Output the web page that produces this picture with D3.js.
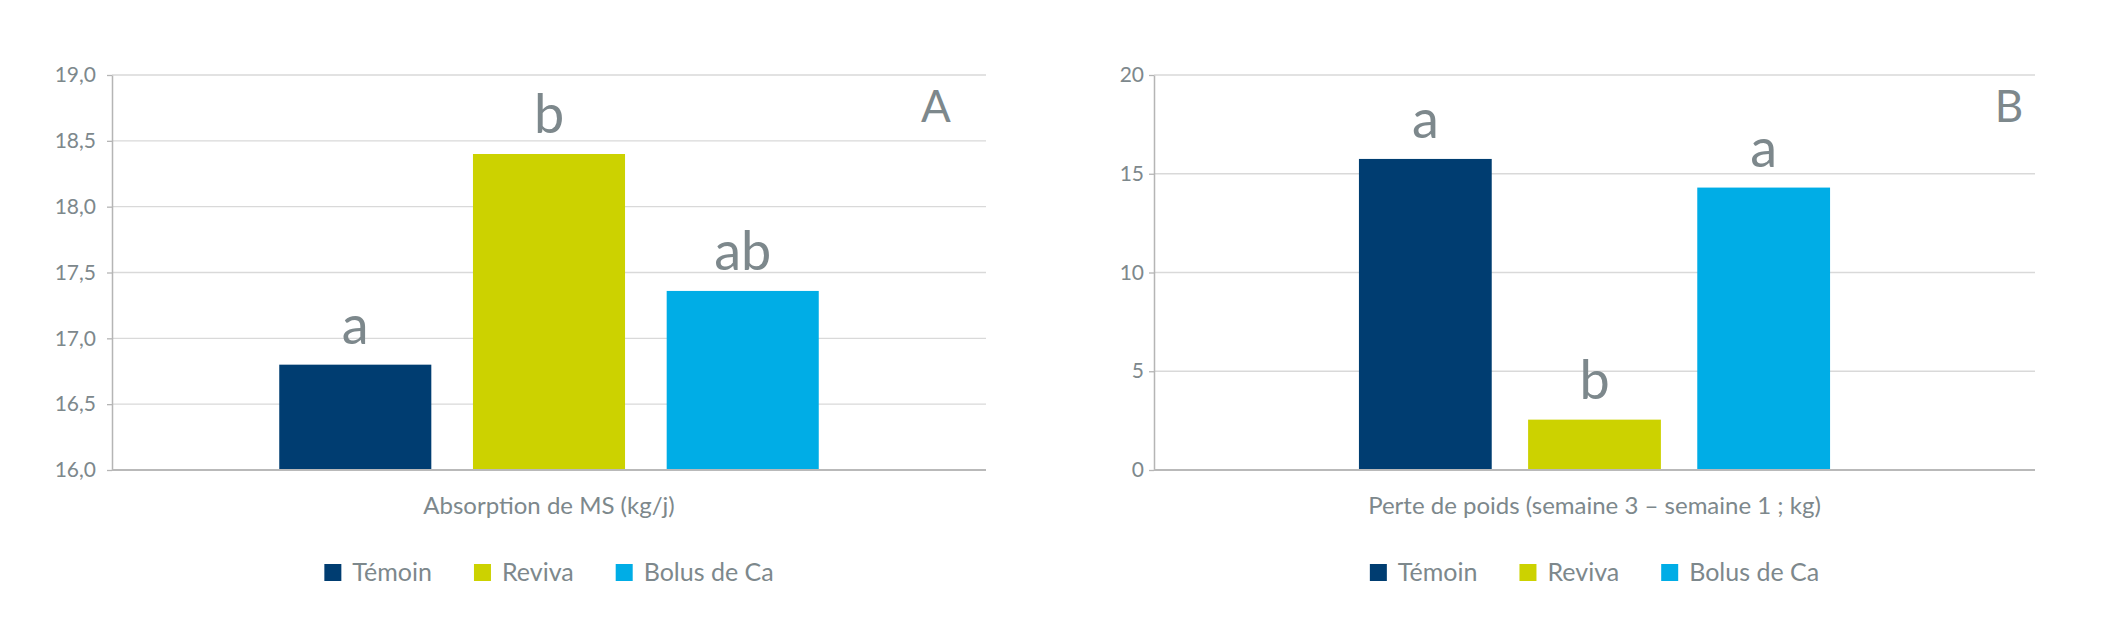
<!DOCTYPE html>
<html>
<head>
<meta charset="utf-8">
<script src="https://cdn.jsdelivr.net/npm/d3@7"></script>
<style>
  html, body { margin: 0; padding: 0; background: #ffffff; }
  svg { display: block; }
  text { font-family: Lato, "Noto Sans", sans-serif; }
</style>
</head>
<body>
<svg id="chart" width="2110" height="624"></svg>
<script>
// ---- data ----
const categories = ["Témoin", "Reviva", "Bolus de Ca"];
const seriesColors = ["#003d71", "#ccd200", "#00ade6"];

const valuesA = [16.8, 18.4, 17.36];
const lettersA = ["a", "b", "ab"];
const ticksA = [16.0, 16.5, 17.0, 17.5, 18.0, 18.5, 19.0];
const tickLabelsA = ["16,0", "16,5", "17,0", "17,5", "18,0", "18,5", "19,0"];
const axisTitleA = "Absorption de MS (kg/j)";
const panelTagA = "A";

const valuesB = [15.75, 2.55, 14.3];
const lettersB = ["a", "b", "a"];
const ticksB = [0, 5, 10, 15, 20];
const tickLabelsB = ["0", "5", "10", "15", "20"];
const axisTitleB = "Perte de poids (semaine 3 – semaine 1 ; kg)";
const panelTagB = "B";

// ---- layout ----
const textColor = "#7d888c";
const svg = d3.select("#chart");

const panels = [
  { values: valuesA, letters: lettersA, ticks: ticksA, tickLabels: tickLabelsA,
    title: axisTitleA, tag: panelTagA, x0: 112, x1: 986, outerPad: 0.31,
    tagOffset: 50, labelPad: 11 },
  { values: valuesB, letters: lettersB, ticks: ticksB, tickLabels: tickLabelsB,
    title: axisTitleB, tag: panelTagB, x0: 1154, x1: 2035, outerPad: 0.435,
    tagOffset: 26, labelPad: 5 }
];

const yTop = 75, yBottom = 470;

panels.forEach(p => {
  const g = svg.append("g");
  const domain = d3.extent(p.ticks);
  const y = d3.scaleLinear().domain(domain).range([yBottom, yTop]);

  const xGroup = d3.scaleBand().domain(["g"]).range([p.x0, p.x1])
    .paddingInner(0).paddingOuter(p.outerPad);
  const xSeries = d3.scaleBand().domain(categories)
    .range([xGroup("g"), xGroup("g") + xGroup.bandwidth()])
    .paddingInner(0.215).paddingOuter(0);

  // gridlines
  g.append("g").selectAll("line").data(p.ticks.filter(t => t !== domain[0]))
    .join("line")
    .attr("x1", p.x0).attr("x2", p.x1)
    .attr("y1", d => y(d)).attr("y2", d => y(d))
    .attr("stroke", "#d9d9d9").attr("stroke-width", 1.3);

  // bars
  g.append("g").selectAll("rect").data(p.values)
    .join("rect")
    .attr("x", (d, i) => xSeries(categories[i]))
    .attr("width", xSeries.bandwidth())
    .attr("y", d => y(d))
    .attr("height", d => y(domain[0]) - y(d))
    .attr("fill", (d, i) => seriesColors[i]);

  // significance letters
  g.append("g").selectAll("text").data(p.values)
    .join("text")
    .attr("x", (d, i) => xSeries(categories[i]) + xSeries.bandwidth() / 2)
    .attr("y", d => y(d) - 21)
    .attr("text-anchor", "middle")
    .attr("font-size", 54)
    .attr("fill", textColor)
    .text((d, i) => p.letters[i]);

  // y axis
  const yAxis = d3.axisLeft(y).tickValues(p.ticks)
    .tickFormat((d, i) => p.tickLabels[i])
    .tickSizeInner(5).tickSizeOuter(0).tickPadding(p.labelPad);
  const ya = g.append("g").attr("transform", `translate(${p.x0},0)`).call(yAxis);
  ya.select(".domain").attr("stroke", "#b5b5b5").attr("stroke-width", 1.5);
  ya.selectAll(".tick line").attr("stroke", "#b5b5b5").attr("stroke-width", 1.3);
  ya.selectAll(".tick text").attr("font-size", 21).attr("fill", textColor)
    .attr("font-family", "Lato, sans-serif");

  // x baseline
  g.append("line")
    .attr("x1", p.x0).attr("x2", p.x1)
    .attr("y1", y(domain[0])).attr("y2", y(domain[0]))
    .attr("stroke", "#b9b9b9").attr("stroke-width", 2);

  // axis title
  g.append("text")
    .attr("x", (p.x0 + p.x1) / 2).attr("y", 514)
    .attr("text-anchor", "middle")
    .attr("font-size", 24).attr("fill", textColor)
    .text(p.title);

  // panel tag
  g.append("text")
    .attr("x", p.x1 - p.tagOffset).attr("y", 122)
    .attr("text-anchor", "middle")
    .attr("font-size", 44).attr("fill", textColor)
    .text(p.tag);

  // legend
  const lg = g.append("g");
  const items = lg.selectAll("g").data(categories).join("g");
  items.append("rect").attr("width", 17).attr("height", 17)
    .attr("y", 564).attr("fill", (d, i) => seriesColors[i]);
  items.append("text").attr("x", 28).attr("y", 581)
    .attr("font-size", 25).attr("fill", textColor).text(d => d);
  let cx = 0;
  items.each(function () {
    const w = 28 + d3.select(this).select("text").node().getComputedTextLength();
    d3.select(this).attr("data-off", cx);
    cx += w + 42;
  });
  const total = cx - 42;
  const start = (p.x0 + p.x1) / 2 - total / 2;
  items.attr("transform", function () {
    return `translate(${start + (+this.getAttribute("data-off"))},0)`;
  });
});
</script>
</body>
</html>
